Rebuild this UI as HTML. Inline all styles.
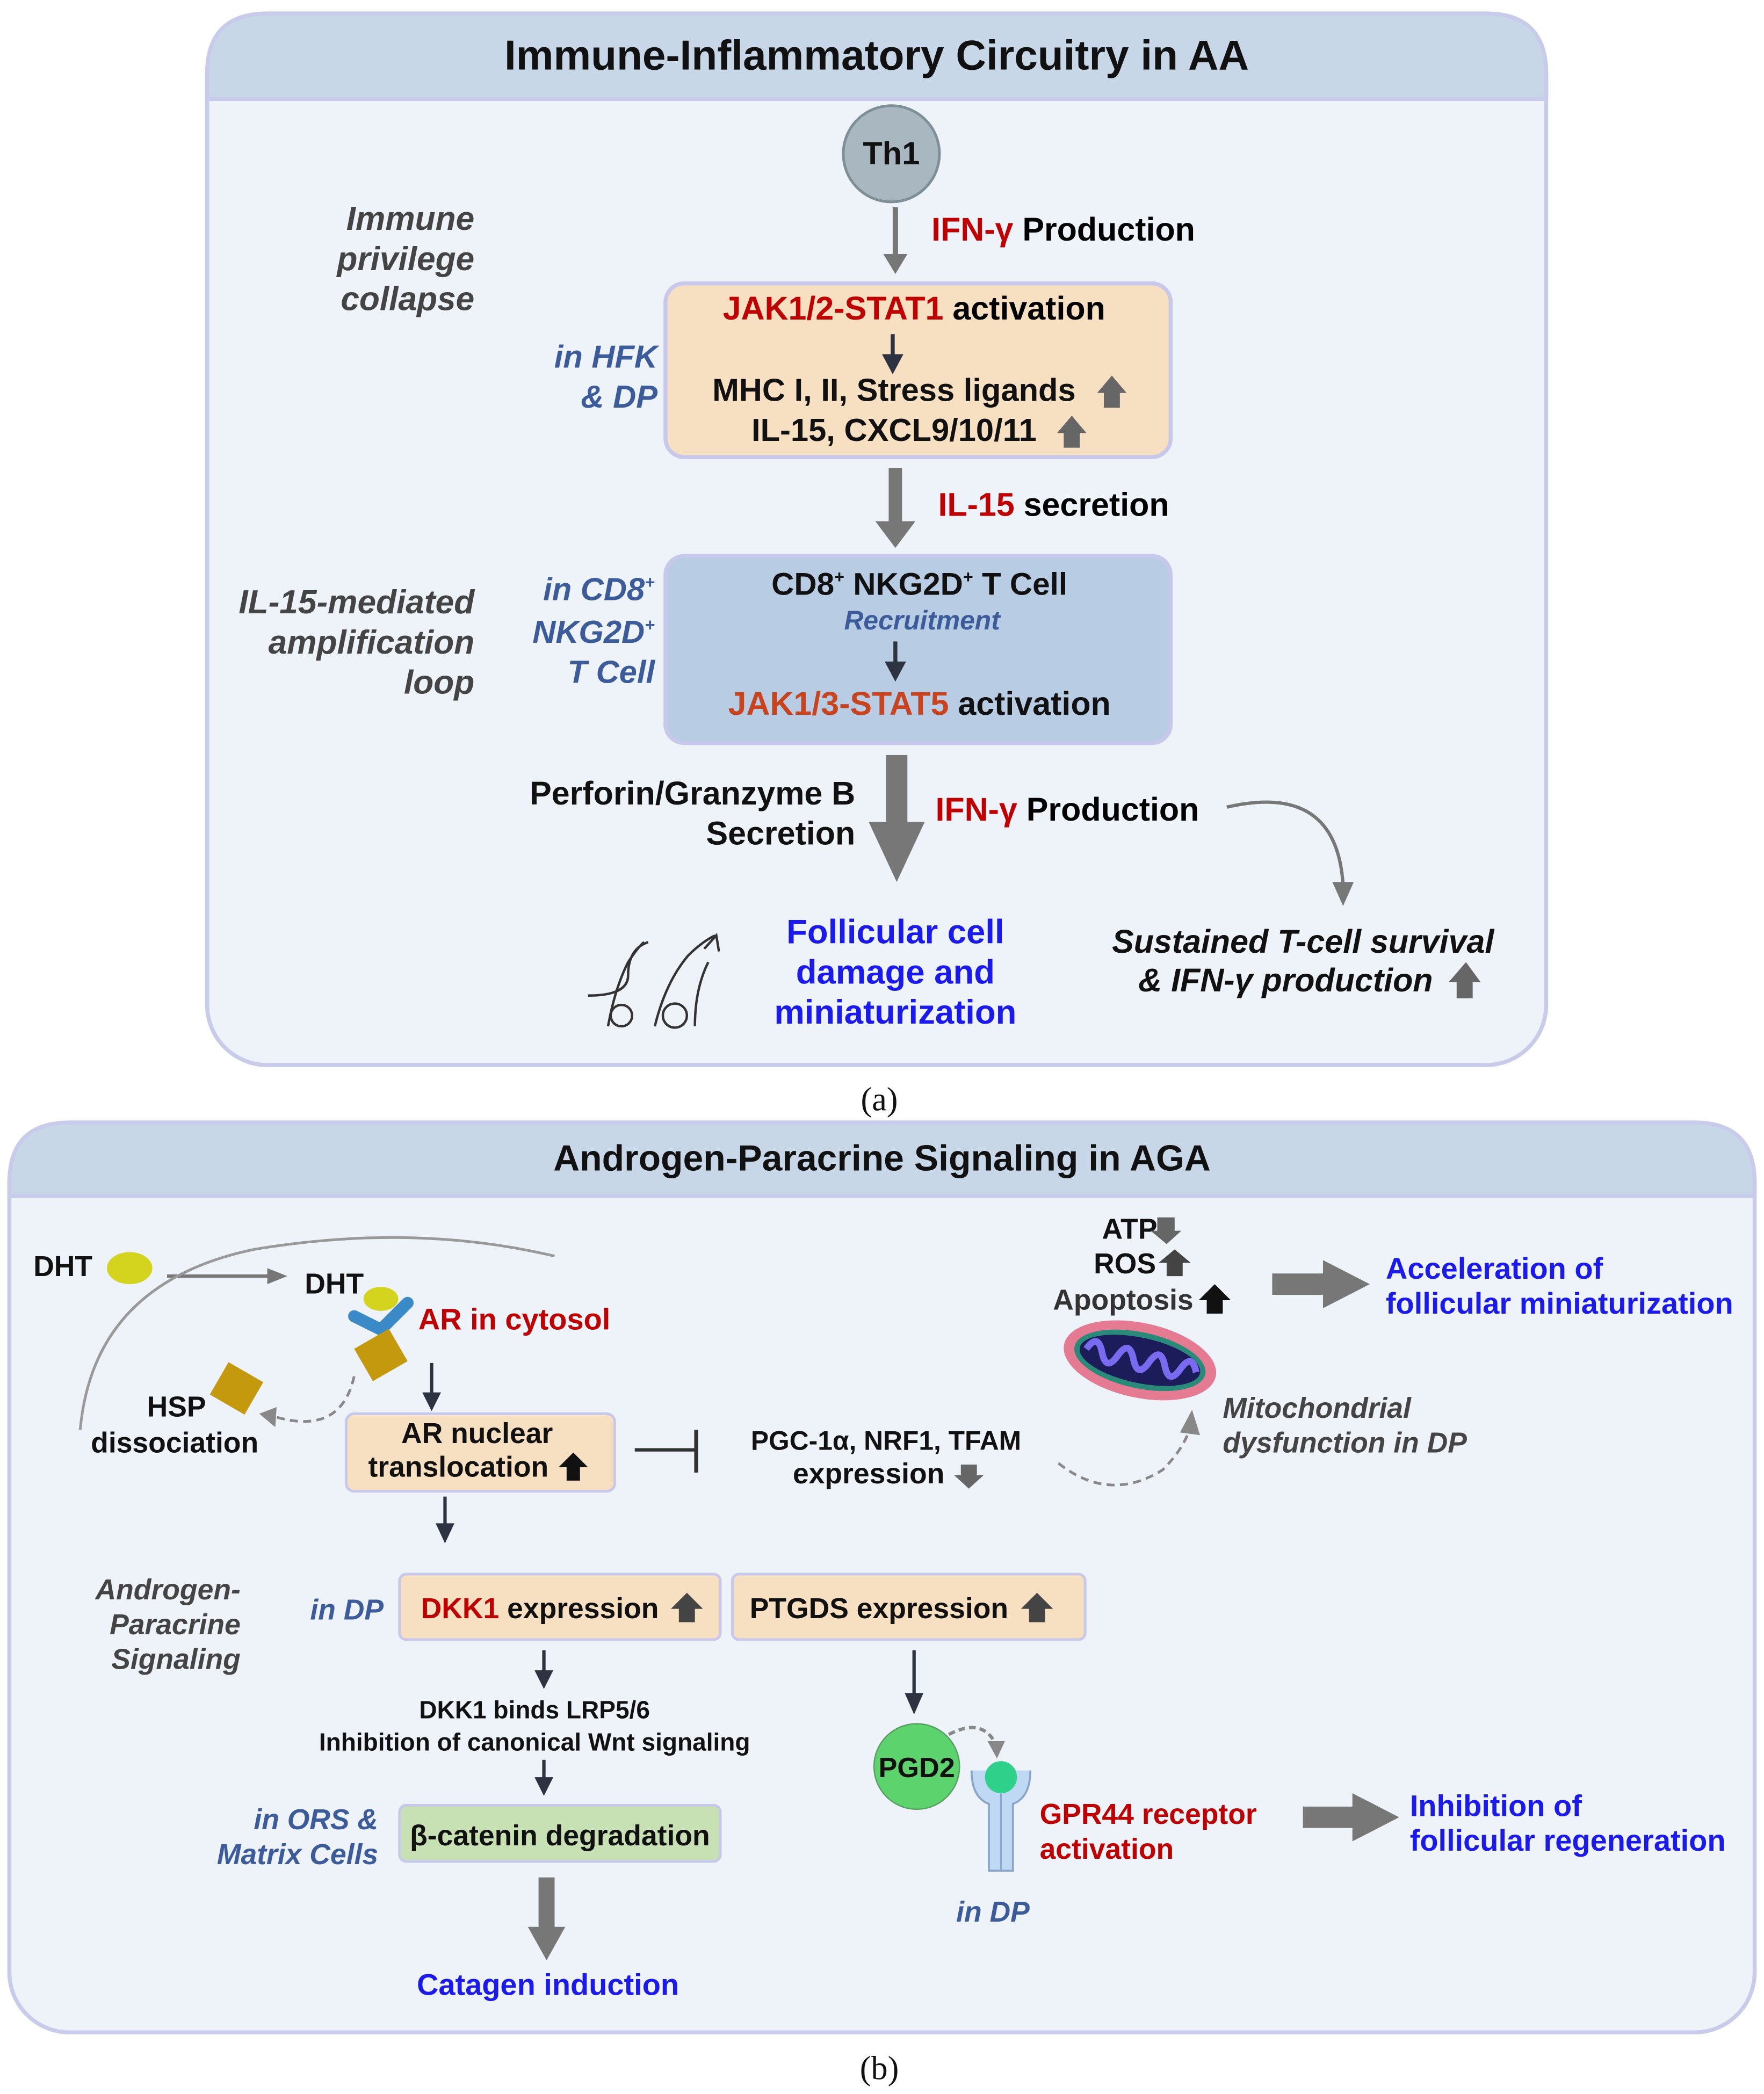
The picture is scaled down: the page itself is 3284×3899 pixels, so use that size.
<!DOCTYPE html>
<html><head><meta charset="utf-8"><style>
html,body{margin:0;padding:0;background:#fff;}
svg{display:block;}
text{font-family:"Liberation Sans",Arial,sans-serif;font-weight:bold;}
.r{fill:#c00000}.b{fill:#1a1aee}.sb{fill:#3b5b9a;font-style:italic}.gi{fill:#444;font-style:italic}
</style></head><body>
<svg width="3284" height="3899" viewBox="0 0 1320 1567" xmlns="http://www.w3.org/2000/svg">
<rect width="1320" height="1567" fill="#fff"/>
<!-- Panel a -->
<rect x="155" y="10" width="1002" height="787" rx="45" fill="#eef2f9" stroke="#c9cbeb" stroke-width="3"/>
<path d="M155,74 L155,55 Q155,10 200,10 L1112,10 Q1157,10 1157,55 L1157,74 Z" fill="#c8d7e8" stroke="#c9cbeb" stroke-width="3"/>
<text x="656" y="52" font-size="31.5" text-anchor="middle" fill="#111">Immune-Inflammatory Circuitry in AA</text>
<circle cx="667" cy="115" r="36" fill="#a9b8c0" stroke="#7f8f98" stroke-width="2"/>
<text x="667" y="123" font-size="24" text-anchor="middle" fill="#111">Th1</text>
<line x1="670" y1="155" x2="670" y2="195" stroke="#777" stroke-width="4"/>
<path d="M661,190 L679,190 L670,205 Z" fill="#777"/>
<text x="697" y="180" font-size="24.5"><tspan class="r">IFN-γ</tspan> Production</text>
<text x="355" y="172" font-size="25" text-anchor="end" class="gi">Immune</text>
<text x="355" y="202" font-size="25" text-anchor="end" class="gi">privilege</text>
<text x="355" y="232" font-size="25" text-anchor="end" class="gi">collapse</text>
<rect x="498" y="212" width="378" height="130" rx="14" fill="#f7dfc1" stroke="#c7c8ec" stroke-width="3"/>
<text x="684" y="239" font-size="24.5" text-anchor="middle"><tspan class="r">JAK1/2-STAT1</tspan> activation</text>
<line x1="668" y1="250" x2="668" y2="268" stroke="#2d3340" stroke-width="3"/><path d="M660,265 L676,265 L668,280 Z" fill="#2d3340"/>
<text x="669" y="300" font-size="24" text-anchor="middle" fill="#111">MHC I, II, Stress ligands</text>
<path d="M826,305 L826,294 L821,294 L832,281 L843,294 L838,294 L838,305 Z" fill="#666"/>
<text x="669" y="330" font-size="24" text-anchor="middle" fill="#111">IL-15, CXCL9/10/11</text>
<path d="M796,335 L796,324 L791,324 L802,311 L813,324 L808,324 L808,335 Z" fill="#666"/>
<text x="492" y="275" font-size="24" text-anchor="end" class="sb">in HFK</text>
<text x="492" y="305" font-size="24" text-anchor="end" class="sb">&amp; DP</text>
<rect x="665" y="350" width="10" height="42" fill="#777"/><path d="M655,390 L685,390 L670,410 Z" fill="#777"/>
<text x="702" y="386" font-size="24.5"><tspan class="r">IL-15</tspan> secretion</text>
<rect x="498" y="416" width="378" height="140" rx="14" fill="#b8cde3" stroke="#c7c8ec" stroke-width="3"/>
<text x="688" y="445" font-size="23.5" text-anchor="middle" fill="#111">CD8<tspan font-size="13" dy="-9">+</tspan><tspan dy="9"> NKG2D</tspan><tspan font-size="13" dy="-9">+</tspan><tspan dy="9"> T Cell</tspan></text>
<text x="690" y="471" font-size="20" text-anchor="middle" class="sb">Recruitment</text>
<line x1="670" y1="480" x2="670" y2="498" stroke="#2d3340" stroke-width="3"/><path d="M662,495 L678,495 L670,510 Z" fill="#2d3340"/>
<text x="688" y="535" font-size="24.5" text-anchor="middle"><tspan fill="#c8431e">JAK1/3-STAT5</tspan> <tspan fill="#111">activation</tspan></text>
<text x="355" y="459" font-size="25" text-anchor="end" class="gi">IL-15-mediated</text>
<text x="355" y="489" font-size="25" text-anchor="end" class="gi">amplification</text>
<text x="355" y="519" font-size="25" text-anchor="end" class="gi">loop</text>
<text x="490" y="449" font-size="24" text-anchor="end" class="sb">in CD8<tspan font-size="13" dy="-9">+</tspan></text>
<text x="490" y="481" font-size="24" text-anchor="end" class="sb">NKG2D<tspan font-size="13" dy="-9">+</tspan></text>
<text x="490" y="511" font-size="24" text-anchor="end" class="sb">T Cell</text>
<rect x="663" y="565" width="16" height="55" fill="#777"/><path d="M650,615 L692,615 L671,660 Z" fill="#777"/>
<text x="640" y="602" font-size="24.5" text-anchor="end" fill="#111">Perforin/Granzyme B</text>
<text x="640" y="632" font-size="24.5" text-anchor="end" fill="#111">Secretion</text>
<text x="700" y="614" font-size="24.5"><tspan class="r">IFN-γ</tspan> Production</text>
<path d="M918,604 Q1000,585 1005,662" fill="none" stroke="#777" stroke-width="2.5"/>
<path d="M997,660 L1013,660 L1005,678 Z" fill="#777"/>
<text x="670" y="706" font-size="25.5" text-anchor="middle" class="b">Follicular cell</text>
<text x="670" y="736" font-size="25.5" text-anchor="middle" class="b">damage and</text>
<text x="670" y="766" font-size="25.5" text-anchor="middle" class="b">miniaturization</text>
<g fill="none" stroke="#333" stroke-width="1.8">
<path d="M440,745 Q470,745 470,730 Q470,710 485,705"/><path d="M455,768 Q460,740 470,720 Q478,708 482,705"/>
<circle cx="465" cy="760" r="8"/><path d="M490,768 Q498,735 515,715 Q525,705 535,700"/>
<circle cx="505" cy="760" r="9"/><path d="M520,768 Q520,740 530,720"/><path d="M527,710 L536,700 L538,712"/>
</g>
<text x="975" y="713" font-size="24.5" text-anchor="middle" fill="#111" font-style="italic">Sustained T-cell survival</text>
<text x="962" y="742" font-size="24.5" text-anchor="middle" fill="#111" font-style="italic">&amp;  IFN-γ production</text>
<path d="M1090,747 L1090,735 L1084,735 L1097,720 L1108,735 L1102,735 L1102,747 Z" fill="#666"/>
<text x="658" y="831" font-size="25" text-anchor="middle" fill="#111" style="font-family:'Liberation Serif',serif;font-weight:normal">(a)</text>
<!-- Panel b -->
<rect x="7" y="840" width="1306" height="681" rx="45" fill="#eef2f9" stroke="#c9cbeb" stroke-width="3"/>
<path d="M7,895 L7,885 Q7,840 52,840 L1268,840 Q1313,840 1313,885 L1313,895 Z" fill="#c8d7e8" stroke="#c9cbeb" stroke-width="3"/>
<text x="660" y="876" font-size="27.3" text-anchor="middle" fill="#111">Androgen-Paracrine Signaling in AGA</text>
<text x="25" y="955" font-size="21.5" fill="#111">DHT</text>
<ellipse cx="97" cy="949" rx="17" ry="12" fill="#d4d41e"/>
<line x1="125" y1="955" x2="205" y2="955" stroke="#777" stroke-width="2.5"/><path d="M200,949 L215,955 L200,961 Z" fill="#777"/>
<text x="228" y="968" font-size="21.5" fill="#111">DHT</text>
<path d="M60,1070 Q70,960 190,935 Q310,915 415,940" fill="none" stroke="#999" stroke-width="2"/>
<ellipse cx="285" cy="972" rx="13" ry="9" fill="#d4d41e"/>
<path d="M265,985 L285,995 L305,975" fill="none" stroke="#3a8ac8" stroke-width="9" stroke-linecap="round"/>
<rect x="270" y="1000" width="30" height="28" fill="#c4990d" transform="rotate(-30 285 1014)"/>
<text x="313" y="995" font-size="22.5" class="r">AR in cytosol</text>
<rect x="162" y="1025" width="30" height="28" fill="#c4990d" transform="rotate(30 177 1039)"/>
<path d="M265,1030 Q255,1075 205,1060" fill="none" stroke="#888" stroke-width="2" stroke-dasharray="6,4"/>
<path d="M207,1053 L194,1058 L206,1068 Z" fill="#888"/>
<text x="110" y="1060" font-size="21.5" fill="#111">HSP</text>
<text x="68" y="1087" font-size="21.5" fill="#111">dissociation</text>
<line x1="323" y1="1020" x2="323" y2="1045" stroke="#2d3340" stroke-width="2.5"/><path d="M316,1042 L330,1042 L323,1056 Z" fill="#2d3340"/>
<rect x="259" y="1058" width="201" height="58" rx="6" fill="#f7dfc1" stroke="#c7c8ec" stroke-width="2"/>
<text x="357" y="1080" font-size="21.5" text-anchor="middle" fill="#111">AR nuclear</text>
<text x="343" y="1105" font-size="21.5" text-anchor="middle" fill="#111">translocation</text>
<path d="M424,1108 L424,1098 L418,1098 L429,1087 L440,1098 L434,1098 L434,1108 Z" fill="#111"/>
<line x1="475" y1="1085" x2="520" y2="1085" stroke="#333" stroke-width="2.5"/><line x1="521" y1="1070" x2="521" y2="1102" stroke="#333" stroke-width="3"/>
<text x="663" y="1085" font-size="20" text-anchor="middle" fill="#111">PGC-1α, NRF1, TFAM</text>
<text x="650" y="1110" font-size="21.5" text-anchor="middle" fill="#111">expression</text>
<path d="M719,1096 L719,1104 L714,1104 L725,1114 L736,1104 L731,1104 L731,1096 Z" fill="#666"/>
<path d="M792,1095 Q830,1125 870,1100 Q885,1085 890,1070" fill="none" stroke="#888" stroke-width="2" stroke-dasharray="6,4"/>
<path d="M883,1072 L892,1055 L898,1074 Z" fill="#888"/>
<text x="866" y="927" font-size="21.5" text-anchor="end" fill="#111">ATP</text>
<path d="M866,911 L866,921 L861,921 L873,931 L884,921 L879,921 L879,911 Z" fill="#666"/>
<text x="865" y="953" font-size="21.5" text-anchor="end" fill="#111">ROS</text>
<path d="M873,955 L873,945 L867,945 L879,935 L891,945 L885,945 L885,955 Z" fill="#444"/>
<text x="893" y="980" font-size="21.5" text-anchor="end" fill="#333">Apoptosis</text>
<path d="M903,983 L903,973 L897,973 L909,961 L921,973 L915,973 L915,983 Z" fill="#111"/>
<g transform="rotate(12 853 1018)">
<ellipse cx="853" cy="1018" rx="58" ry="28" fill="#e57a93"/>
<ellipse cx="853" cy="1018" rx="50" ry="21" fill="#2a8a7a"/>
<ellipse cx="853" cy="1018" rx="46" ry="17" fill="#1c1c5a"/>
<path d="M812,1018 q6,-14 12,0 t12,0 t12,0 t12,0 t12,0 t12,0 t12,0" fill="none" stroke="#7a6af0" stroke-width="5"/>
</g>
<rect x="952" y="953" width="40" height="16" fill="#777"/><path d="M990,943 L1025,961 L990,979 Z" fill="#777"/>
<text x="1037" y="957" font-size="22.5" class="b">Acceleration of</text>
<text x="1037" y="983" font-size="22.5" class="b">follicular miniaturization</text>
<text x="915" y="1061" font-size="21.5" class="gi">Mitochondrial</text>
<text x="915" y="1087" font-size="21.5" class="gi">dysfunction in DP</text>
<line x1="333" y1="1120" x2="333" y2="1143" stroke="#2d3340" stroke-width="2.5"/><path d="M326,1140 L340,1140 L333,1155 Z" fill="#2d3340"/>
<text x="180" y="1197" font-size="21.5" text-anchor="end" class="gi">Androgen-</text>
<text x="180" y="1223" font-size="21.5" text-anchor="end" class="gi">Paracrine</text>
<text x="180" y="1249" font-size="21.5" text-anchor="end" class="gi">Signaling</text>
<text x="287" y="1212" font-size="21.5" text-anchor="end" class="sb">in DP</text>
<rect x="299" y="1178" width="240" height="49" rx="5" fill="#f7dfc1" stroke="#c7c8ec" stroke-width="2"/>
<text x="315" y="1211" font-size="21.5"><tspan class="r">DKK1</tspan><tspan fill="#111"> expression</tspan></text>
<path d="M508,1214 L508,1204 L502,1204 L514,1192 L526,1204 L520,1204 L520,1214 Z" fill="#444"/>
<rect x="548" y="1178" width="264" height="49" rx="5" fill="#f7dfc1" stroke="#c7c8ec" stroke-width="2"/>
<text x="561" y="1211" font-size="21.5" fill="#111">PTGDS expression</text>
<path d="M770,1214 L770,1204 L764,1204 L776,1192 L788,1204 L782,1204 L782,1214 Z" fill="#444"/>
<line x1="407" y1="1235" x2="407" y2="1253" stroke="#2d3340" stroke-width="2.5"/><path d="M400,1250 L414,1250 L407,1264 Z" fill="#2d3340"/>
<text x="400" y="1286" font-size="18.5" text-anchor="middle" fill="#111">DKK1 binds LRP5/6</text>
<text x="400" y="1310" font-size="18.5" text-anchor="middle" fill="#111">Inhibition of canonical Wnt signaling</text>
<line x1="407" y1="1317" x2="407" y2="1333" stroke="#2d3340" stroke-width="2.5"/><path d="M400,1330 L414,1330 L407,1344 Z" fill="#2d3340"/>
<text x="283" y="1369" font-size="21.5" text-anchor="end" class="sb">in ORS &amp;</text>
<text x="283" y="1395" font-size="21.5" text-anchor="end" class="sb">Matrix Cells</text>
<rect x="299" y="1351" width="240" height="42" rx="5" fill="#c7e0b4" stroke="#c7c8ec" stroke-width="2"/>
<text x="419" y="1381" font-size="21.5" text-anchor="middle" fill="#111">β-catenin degradation</text>
<rect x="403" y="1405" width="12" height="40" fill="#777"/><path d="M395,1442 L423,1442 L409,1467 Z" fill="#777"/>
<text x="410" y="1493" font-size="22.5" text-anchor="middle" class="b">Catagen induction</text>
<line x1="684" y1="1235" x2="684" y2="1270" stroke="#2d3340" stroke-width="2.5"/><path d="M677,1267 L691,1267 L684,1283 Z" fill="#2d3340"/>
<ellipse cx="686" cy="1322" rx="32" ry="32" fill="#5dd36d" stroke="#55a060" stroke-width="1"/>
<text x="686" y="1330" font-size="21" text-anchor="middle" fill="#111">PGD2</text>
<path d="M710,1298 Q735,1285 745,1305" fill="none" stroke="#888" stroke-width="2.5" stroke-dasharray="5,3"/>
<path d="M739,1303 L752,1303 L746,1316 Z" fill="#888"/>
<path d="M727,1325 Q727,1345 740,1350 L740,1400 L758,1400 L758,1350 Q771,1345 771,1325" fill="#bfd8f4" stroke="#8aa5c8" stroke-width="1.5"/>
<line x1="749" y1="1340" x2="749" y2="1400" stroke="#8aa5c8" stroke-width="1.2"/>
<circle cx="749" cy="1330" r="12" fill="#2fd08a"/>
<text x="778" y="1365" font-size="21.5" class="r">GPR44 receptor</text>
<text x="778" y="1391" font-size="21.5" class="r">activation</text>
<text x="743" y="1438" font-size="21.5" text-anchor="middle" class="sb">in DP</text>
<rect x="975" y="1352" width="40" height="16" fill="#777"/><path d="M1012,1342 L1047,1360 L1012,1378 Z" fill="#777"/>
<text x="1055" y="1359" font-size="22.5" class="b">Inhibition of</text>
<text x="1055" y="1385" font-size="22.5" class="b">follicular regeneration</text>
<text x="658" y="1556" font-size="25" text-anchor="middle" fill="#111" style="font-family:'Liberation Serif',serif;font-weight:normal">(b)</text>
</svg>
</body></html>
